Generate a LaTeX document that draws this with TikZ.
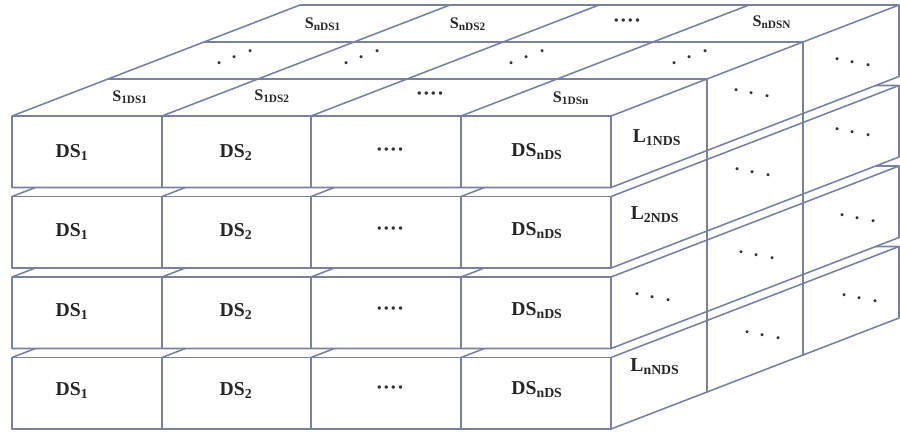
\documentclass[tikz,border=0pt]{standalone}
\usepackage{fontspec}
\setmainfont{Liberation Serif}
\definecolor{boxline}{RGB}{122,128,160}
\tikzset{
  slabline/.style={draw=boxline, line width=1.1pt, line join=round},
  biglabel/.style={font=\bfseries\fontsize{14}{16}\selectfont, text=black!85},
  toplabel/.style={font=\bfseries\fontsize{11.5}{13}\selectfont, text=black!85},
  dotlabel/.style={font=\bfseries\fontsize{15}{17}\selectfont, text=black!80},
  dotrow/.style={font=\fontsize{20}{22}\selectfont, text=black!80, inner sep=1pt}
}
% three dots climbing by #1 from one to the next
\def\slopedots#1{\raisebox{-#1}{$\cdot$}\hspace{0.278em}$\cdot$\hspace{0.278em}\raisebox{#1}{$\cdot$}}
% one slab of the block, front top edge at height #1
\def\slab(#1){
  \begin{scope}[shift={(0,#1)}]
    \filldraw[slabline, fill=white] (12,0) -- (300,-111) -- (899,-111) -- (899,-39.5) -- (611,71.5) -- (12,71.5) -- cycle;
    \draw[slabline] (12,0) -- (611,0) -- (611,71.5);
    \draw[slabline] (611,0) -- (899,-111);
    \draw[slabline] (162,0) -- (162,71.5);
    \draw[slabline] (311,0) -- (311,71.5);
    \draw[slabline] (461,0) -- (461,71.5);
    \draw[slabline] (162,0) -- (450,-111);
    \draw[slabline] (311,0) -- (599,-111);
    \draw[slabline] (461,0) -- (749,-111);
  \end{scope}
}

\begin{document}
\begin{tikzpicture}[x=0.025cm, y=-0.025cm]
    %%%%% START %%%%%
    \useasboundingbox (0,0) rectangle (900,437);

    \slab(357.5)
    \slab(277)
    \slab(196.5)
    \slab(116)

    % depth layers on top and right side
    \draw[slabline] (108,79) -- (707,79) -- (707,392.5);
    \draw[slabline] (204,42) -- (803,42) -- (803,355.5);

    % front faces
    \node[biglabel] (ds11) at (72, 152) {DS\textsubscript{1}};
    \node[biglabel] (ds12) at (236, 152) {DS\textsubscript{2}};
    \node[dotlabel] (ds13) at (390, 152) {····};
    \node[biglabel] (ds14) at (537, 152) {DS\textsubscript{nDS}};

    \node[biglabel] (ds21) at (72, 231) {DS\textsubscript{1}};
    \node[biglabel] (ds22) at (236, 231) {DS\textsubscript{2}};
    \node[dotlabel] (ds23) at (390, 231) {····};
    \node[biglabel] (ds24) at (537, 231) {DS\textsubscript{nDS}};

    \node[biglabel] (ds31) at (72, 311) {DS\textsubscript{1}};
    \node[biglabel] (ds32) at (236, 311) {DS\textsubscript{2}};
    \node[dotlabel] (ds33) at (390, 311) {····};
    \node[biglabel] (ds34) at (537, 311) {DS\textsubscript{nDS}};

    \node[biglabel] (ds41) at (72, 390) {DS\textsubscript{1}};
    \node[biglabel] (ds42) at (236, 390) {DS\textsubscript{2}};
    \node[dotlabel] (ds43) at (390, 390) {····};
    \node[biglabel] (ds44) at (537, 390) {DS\textsubscript{nDS}};

    % top face
    \node[toplabel] (s11) at (130, 97) {S\textsubscript{1DS1}};
    \node[toplabel] (s12) at (272, 96) {S\textsubscript{1DS2}};
    \node[dotlabel] (s13) at (430, 96) {····};
    \node[toplabel] (s14) at (571, 98) {S\textsubscript{1DSn}};

    \node[dotrow] (m1) at (235, 58) {\slopedots{4pt}};
    \node[dotrow] (m2) at (362, 58) {\slopedots{4pt}};
    \node[dotrow] (m3) at (527, 58) {\slopedots{4pt}};
    \node[dotrow] (m4) at (690, 58) {\slopedots{4pt}};

    \node[toplabel] (sn1) at (323, 24) {S\textsubscript{nDS1}};
    \node[toplabel] (sn2) at (468, 24) {S\textsubscript{nDS2}};
    \node[dotlabel] (sn3) at (627, 23) {····};
    \node[toplabel] (sn4) at (772, 22) {S\textsubscript{nDSN}};

    % right side
    \node[biglabel] (l1) at (657, 138) {L\textsubscript{1NDS}};
    \node[biglabel] (l2) at (655, 215) {L\textsubscript{2NDS}};
    \node[dotrow] (l3) at (653, 298) {\slopedots{-2.3pt}};
    \node[biglabel] (l4) at (655, 367) {L\textsubscript{nNDS}};

    \node[dotrow] (p1) at (752, 94) {\slopedots{-2.3pt}};
    \node[dotrow] (p2) at (753, 173) {\slopedots{-2.3pt}};
    \node[dotrow] (p3) at (757, 256) {\slopedots{-2.3pt}};
    \node[dotrow] (p4) at (763, 336) {\slopedots{-2.3pt}};

    \node[dotrow] (q1) at (853, 63) {\slopedots{-2.3pt}};
    \node[dotrow] (q2) at (853, 133) {\slopedots{-2.3pt}};
    \node[dotrow] (q3) at (858, 219) {\slopedots{-2.3pt}};
    \node[dotrow] (q4) at (860, 299) {\slopedots{-2.3pt}};

    %%%%% END %%%%%
\end{tikzpicture}
\end{document}
